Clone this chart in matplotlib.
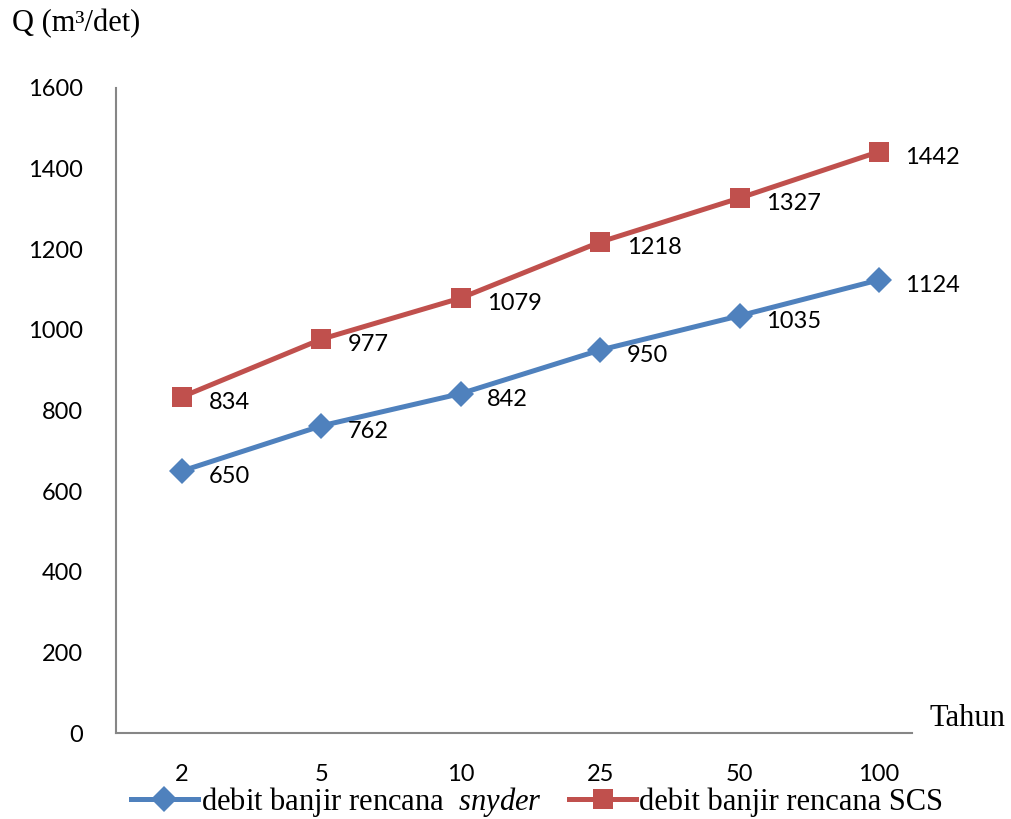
import matplotlib
matplotlib.use("Agg")
import matplotlib.pyplot as plt
from matplotlib.lines import Line2D

# Return periods (years) and design flood discharges
periods = ["2", "5", "10", "25", "50", "100"]
q_snyder = [650, 762, 842, 950, 1035, 1124]
q_scs = [834, 977, 1079, 1218, 1327, 1442]
y_ticks = [0, 200, 400, 600, 800, 1000, 1200, 1400, 1600]

plt.rcParams["mathtext.fontset"] = "custom"
plt.rcParams["mathtext.rm"] = "Liberation Serif"
plt.rcParams["mathtext.it"] = "Liberation Serif:italic"

BLUE = "#4F81BD"
RED = "#C0504D"
AXIS = "#868686"
num_font = "Lato"
serif = "Liberation Serif"
LW = 3.6

fig = plt.figure(figsize=(10.11, 8.19), dpi=100)
ax = fig.add_axes([116 / 1011, 86 / 819, 796 / 1011, 645 / 819])

x = list(range(len(periods)))
ax.plot(x, q_snyder, color=BLUE, lw=LW, marker="D", markersize=13,
        markeredgewidth=0)
ax.plot(x, q_scs, color=RED, lw=LW, marker="s", markersize=14,
        markeredgewidth=0)

for xi, v in zip(x, q_snyder):
    ax.annotate(str(v), (xi, v), xytext=(19, -4), textcoords="offset points",
                ha="left", va="center", fontsize=17, family=num_font)
for xi, v in zip(x, q_scs):
    ax.annotate(str(v), (xi, v), xytext=(19, -4), textcoords="offset points",
                ha="left", va="center", fontsize=17, family=num_font)

ax.set_xlim(-0.474, 5.237)
ax.set_ylim(0, 1600)
ax.set_yticks(y_ticks)
ax.set_xticks(x)
ax.set_xticklabels(periods)
for lab in ax.get_xticklabels() + ax.get_yticklabels():
    lab.set_family(num_font)
    lab.set_fontsize(17)
ax.tick_params(length=0)
ax.tick_params(axis="y", pad=24)
ax.tick_params(axis="x", pad=22)

for s in ["top", "right"]:
    ax.spines[s].set_visible(False)
for s in ["left", "bottom"]:
    ax.spines[s].set_color(AXIS)
    ax.spines[s].set_linewidth(1.5)

fig.text(12 / 1011, 1 - 24 / 819, "Q (m³/det)", family=serif, fontsize=22,
         ha="left", va="center")
fig.text(930 / 1011, 1 - 718 / 819, "Tahun", family=serif, fontsize=22,
         ha="left", va="center")

handles = [
    Line2D([], [], color=BLUE, lw=LW, marker="D", markersize=13, markeredgewidth=0),
    Line2D([], [], color=RED, lw=LW, marker="s", markersize=14, markeredgewidth=0),
]
labels = ["debit banjir rencana  $\\mathit{snyder}$", "debit banjir rencana SCS"]
fig.legend(handles, labels, loc="center", bbox_to_anchor=(537 / 1011, 1 - 802 / 819),
           ncol=2, frameon=False, prop={"family": serif, "size": 22},
           handlelength=2.2, handletextpad=0.1, columnspacing=0.9, borderpad=0)

fig.savefig("out.png", dpi=100)
